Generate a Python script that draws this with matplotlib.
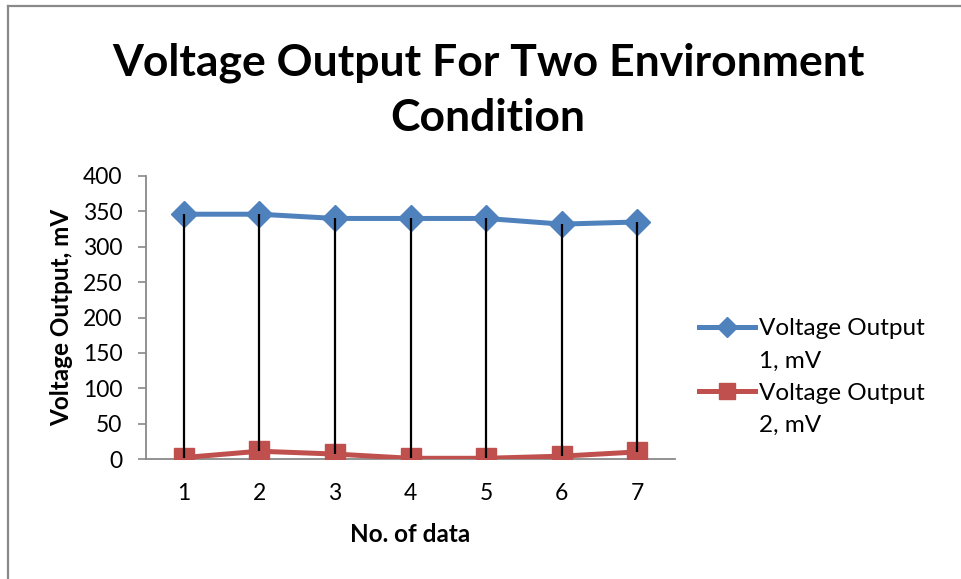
import matplotlib
matplotlib.use("Agg")
import matplotlib.pyplot as plt
from matplotlib.lines import Line2D

# -------------------------------
# Data
# -------------------------------
data_no = [1, 2, 3, 4, 5, 6, 7]
voltage_1 = [346, 346, 340, 340, 340, 332, 335]
voltage_2 = [2, 11, 7, 1, 1, 4, 10]
y_ticks = [0, 50, 100, 150, 200, 250, 300, 350, 400]

title = "Voltage Output For Two Environment\nCondition"
x_label = "No. of data"
y_label = "Voltage Output, mV"
series_names = ["Voltage Output", "1, mV", "Voltage Output", "2, mV"]

BLUE = "#4F81BD"
RED = "#C0504D"
GREY = "#898989"
FONT = "Lato"

plt.rcParams["font.family"] = [FONT, "DejaVu Sans"]

W, H = 961, 579
fig = plt.figure(figsize=(W / 100, H / 100), dpi=100)

# plot area in pixels: x 146..675, y 176..459
ax = fig.add_axes([146 / W, 1 - 459 / H, 529 / W, 283 / H])

# high-low lines between the two series
ax.vlines(data_no, voltage_2, voltage_1, colors="black", linewidth=1.6, zorder=4)

ax.plot(data_no, voltage_1, color=BLUE, linewidth=3.6, marker="D",
        markersize=13.5, zorder=3)
ax.plot(data_no, voltage_2, color=RED, linewidth=3.6, marker="s",
        markersize=14, zorder=3)

ax.set_xlim(0.5, 7.5)
ax.set_ylim(0, 400)
ax.set_xticks(data_no)
ax.set_yticks(y_ticks)
ax.tick_params(axis="y", direction="out", length=6, width=1.2, color=GREY,
               pad=11, labelsize=16.5)
ax.tick_params(axis="x", length=0, pad=17, labelsize=16.5)

for side in ["top", "right"]:
    ax.spines[side].set_visible(False)
for side in ["left", "bottom"]:
    ax.spines[side].set_color(GREY)
    ax.spines[side].set_linewidth(1.3)
ax.spines["left"].set_position(("data", 0.5))
ax.spines["left"].set_zorder(1)

# titles and axis labels (multi-line baseline = last line)
fig.text(488 / W, 1 - 131 / H, title, ha="center", va="baseline",
         fontsize=32, fontweight="bold", linespacing=1.45)
fig.text(410 / W, 1 - 542 / H, x_label, ha="center", va="baseline",
         fontsize=17.5, fontweight="bold")
fig.text(62 / W, 1 - 317 / H, y_label, ha="center", va="center",
         rotation=90, fontsize=17.5, fontweight="bold")

# legend: two rows per series, marker only on first row
handles = [
    Line2D([], [], color=BLUE, linewidth=3.6, marker="D", markersize=10),
    Line2D([], [], linestyle="none"),
    Line2D([], [], color=RED, linewidth=3.6, marker="s", markersize=12),
    Line2D([], [], linestyle="none"),
]
fig.legend(handles, series_names, loc="upper left",
           bbox_to_anchor=(699 / W, 1 - 318 / H), frameon=False,
           fontsize=17.5, handlelength=2.3, handletextpad=0.15,
           labelspacing=0.47, borderpad=0, borderaxespad=0)

# outer frame (left and top edges)
fig.add_artist(Line2D([7.5 / W, 7.5 / W], [0, 1 - 5.5 / H], color=GREY,
                      linewidth=1.6, transform=fig.transFigure))
fig.add_artist(Line2D([7.5 / W, 1], [1 - 5.5 / H, 1 - 5.5 / H], color=GREY,
                      linewidth=1.6, transform=fig.transFigure))

fig.savefig("out.png", dpi=100)
